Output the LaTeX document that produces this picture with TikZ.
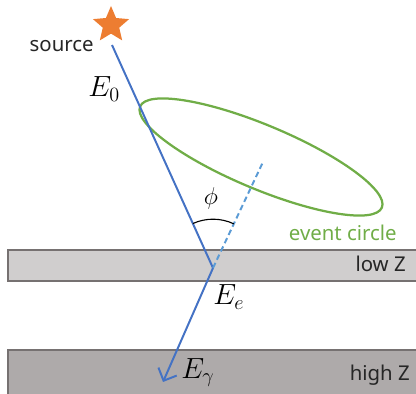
\documentclass[tikz,border=0pt]{standalone}
\usepackage{fontspec}
\setmainfont{Noto Sans}
\usepackage{tikz}
\usetikzlibrary{arrows.meta,shapes.geometric,angles}
\definecolor{beam}{HTML}{4472C4}
\definecolor{beamlight}{HTML}{5B9BD5}
\definecolor{ring}{HTML}{70AD47}
\definecolor{srcorange}{HTML}{ED7D31}
\definecolor{lowfill}{HTML}{D0CECE}
\definecolor{highfill}{HTML}{AEAAAA}
\definecolor{slab}{HTML}{767171}
\definecolor{ink}{HTML}{262626}

\begin{document}
\begin{tikzpicture}[x=0.025cm,y=-0.025cm,>=Latex,
  txt/.style={font=\fontsize{14.5}{17}\selectfont,inner sep=0pt,text=ink},
  lbl/.style={font=\fontsize{20}{23}\selectfont,inner sep=0pt}]
\useasboundingbox (0,0) rectangle (416,394);
% detector layers
\begin{scope}
\clip (0,0) rectangle (416,394);
\draw[slab,line width=1.4pt,fill=lowfill] (8,250) rectangle (430,281);
\draw[slab,line width=1.4pt,fill=highfill] (8,350) rectangle (430,410);
\end{scope}
\node[txt,anchor=base east] (lowz) at (406,271.7) {low Z};
\node[txt,anchor=base east] (highz) at (410,380) {high Z};
% source and tracks
\node[star,star points=5,star point ratio=2.2,fill=srcorange,inner sep=0pt,minimum size=0.95cm] (src) at (111,25) {};
\node[txt,anchor=base east] (srclbl) at (94,51.5) {source};
\coordinate (beamstart) at (112,45);
\coordinate (hit) at (213,268);
\coordinate (axis) at (263,162);
\coordinate (gamma) at (163,382);
\node[draw=ring,line width=1.6pt,ellipse,rotate=-22.7,minimum width=6.55cm,minimum height=1.6cm,inner sep=0pt] (evcircle) at (261,157) {};
\draw[beam,line width=1.4pt] (beamstart) -- (hit);
\draw[beamlight,line width=1.4pt,dash pattern=on 4pt off 2.5pt] (hit) -- (axis);
\draw[beam,line width=1.4pt,-{Straight Barb[length=2.5mm]}] (hit) -- (gamma);
\pic[draw,line width=0.8pt,angle radius=1.22cm] {angle=axis--hit--beamstart};
% labels
\node[lbl,anchor=base west] (ezero) at (88,97) {$E_0$};
\node[lbl,anchor=base west] (eelec) at (213,305) {$E_e$};
\node[lbl,anchor=base west] (egam) at (181,378) {$E_\gamma$};
\node[font=\fontsize{16}{18}\selectfont,inner sep=0pt] (philbl) at (211,198) {$\phi$};
\node[txt,anchor=base east,text=ring] (evlbl) at (397,241) {event circle};
\end{tikzpicture}
\end{document}
